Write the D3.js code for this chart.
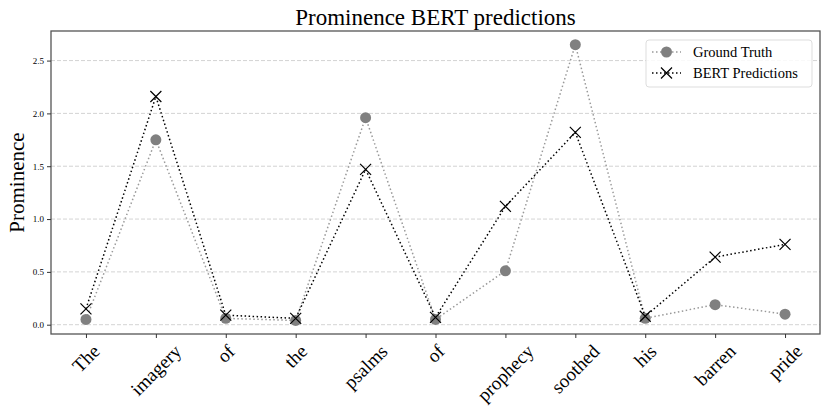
<!DOCTYPE html>
<html>
<head>
<meta charset="utf-8">
<script src="https://cdn.jsdelivr.net/npm/d3@7"></script>
<style>
  body { margin: 0; background: #fff; }
  svg { display: block; font-family: "Liberation Serif", "Times New Roman", serif; }
</style>
</head>
<body>
<svg id="chart" width="830" height="415"></svg>
<script>
const words = ["The", "imagery", "of", "the", "psalms", "of", "prophecy", "soothed", "his", "barren", "pride"];
const groundTruth = [0.05, 1.75, 0.06, 0.04, 1.96, 0.05, 0.51, 2.65, 0.06, 0.19, 0.10];
const bertPredictions = [0.15, 2.16, 0.09, 0.06, 1.47, 0.07, 1.12, 1.82, 0.08, 0.64, 0.76];
const yTicks = [0.0, 0.5, 1.0, 1.5, 2.0, 2.5];
const titleText = "Prominence BERT predictions";
const yLabel = "Prominence";
const legendLabels = ["Ground Truth", "BERT Predictions"];

const svg = d3.select("#chart");
const pLeft = 51, pRight = 820, pTop = 31, pBottom = 334;

const x = d3.scaleLinear().domain([-0.5, words.length - 0.5]).range([pLeft, pRight]);
const y = d3.scaleLinear().domain([-0.088, 2.78]).range([pBottom, pTop]);

// grid
svg.append("g").selectAll("line").data(yTicks).join("line")
  .attr("x1", pLeft).attr("x2", pRight)
  .attr("y1", d => y(d)).attr("y2", d => y(d))
  .attr("stroke", "#c8c8c8").attr("stroke-width", 0.8)
  .attr("stroke-dasharray", "4,2");

// lines
const line = d3.line().x((d, i) => x(i)).y(d => y(d));
svg.append("path").datum(groundTruth).attr("d", line)
  .attr("fill", "none").attr("stroke", "#999").attr("stroke-width", 1.5)
  .attr("stroke-dasharray", "1.5,2.5");
svg.append("path").datum(bertPredictions).attr("d", line)
  .attr("fill", "none").attr("stroke", "#000").attr("stroke-width", 1.5)
  .attr("stroke-dasharray", "1.5,2.5");

// markers
svg.append("g").selectAll("circle").data(groundTruth).join("circle")
  .attr("cx", (d, i) => x(i)).attr("cy", d => y(d)).attr("r", 5.5)
  .attr("fill", "#808080");
const xs = 5.5;
svg.append("g").selectAll("path").data(bertPredictions).join("path")
  .attr("d", (d, i) => {
    const cx = x(i), cy = y(d);
    return `M${cx - xs},${cy - xs}L${cx + xs},${cy + xs}M${cx - xs},${cy + xs}L${cx + xs},${cy - xs}`;
  })
  .attr("stroke", "#000").attr("stroke-width", 1.2).attr("fill", "none");

// spines
svg.append("rect").attr("x", pLeft).attr("y", pTop)
  .attr("width", pRight - pLeft).attr("height", pBottom - pTop)
  .attr("fill", "none").attr("stroke", "#555").attr("stroke-width", 1.3);

// y axis
const yAxis = svg.append("g").attr("transform", `translate(${pLeft},0)`)
  .call(d3.axisLeft(y).tickValues(yTicks).tickFormat(d3.format(".1f")).tickSize(4).tickPadding(3));
yAxis.select(".domain").remove();
yAxis.selectAll("line").attr("stroke", "#333");
yAxis.selectAll("text").attr("font-size", 9).attr("fill", "#000")
  .attr("font-family", "Liberation Serif");

// x axis
const xAxis = svg.append("g").attr("transform", `translate(0,${pBottom})`)
  .call(d3.axisBottom(x).tickValues(d3.range(words.length)).tickFormat("").tickSize(4));
xAxis.select(".domain").remove();
xAxis.selectAll("line").attr("stroke", "#333");

// rotated x labels (center aligned like matplotlib rotation=45)
const labelTop = 342;
const fs = 19;
const lbls = svg.append("g").selectAll("text").data(words).join("text")
  .text(d => d)
  .attr("font-size", fs)
  .attr("text-anchor", "middle")
  .attr("dominant-baseline", "central");
lbls.each(function(d, i) {
  const w = this.getComputedTextLength();
  const h = fs * 0.9;
  const ext = (w + h) * Math.SQRT1_2;
  const cx = x(i), cy = labelTop + ext / 2;
  d3.select(this).attr("x", cx).attr("y", cy)
    .attr("transform", `rotate(-45,${cx},${cy})`);
});

// title
svg.append("text").attr("x", (pLeft + pRight) / 2).attr("y", 25)
  .attr("text-anchor", "middle").attr("font-size", 23).text(titleText);

// y label
svg.append("text").attr("transform", `translate(24,${(pTop + pBottom) / 2}) rotate(-90)`)
  .attr("text-anchor", "middle").attr("font-size", 21).text(yLabel);

// legend
const lg = svg.append("g");
lg.append("rect").attr("x", 646).attr("y", 40).attr("width", 166).attr("height", 47)
  .attr("rx", 3).attr("fill", "#fff").attr("fill-opacity", 0.85)
  .attr("stroke", "#ddd").attr("stroke-width", 1);
const rows = [52, 73];
rows.forEach((ry, k) => {
  lg.append("line").attr("x1", 652).attr("x2", 681).attr("y1", ry).attr("y2", ry)
    .attr("stroke", k === 0 ? "#999" : "#000").attr("stroke-width", 1.5)
    .attr("stroke-dasharray", "1.5,2.5");
  if (k === 0) {
    lg.append("circle").attr("cx", 666.5).attr("cy", ry).attr("r", 5.5).attr("fill", "#808080");
  } else {
    lg.append("path").attr("d", `M${666.5 - xs},${ry - xs}L${666.5 + xs},${ry + xs}M${666.5 - xs},${ry + xs}L${666.5 + xs},${ry - xs}`)
      .attr("stroke", "#000").attr("stroke-width", 1.2);
  }
  lg.append("text").attr("x", 693).attr("y", ry).attr("dominant-baseline", "central")
    .attr("font-size", 14.5).text(legendLabels[k]);
});
</script>
</body>
</html>
